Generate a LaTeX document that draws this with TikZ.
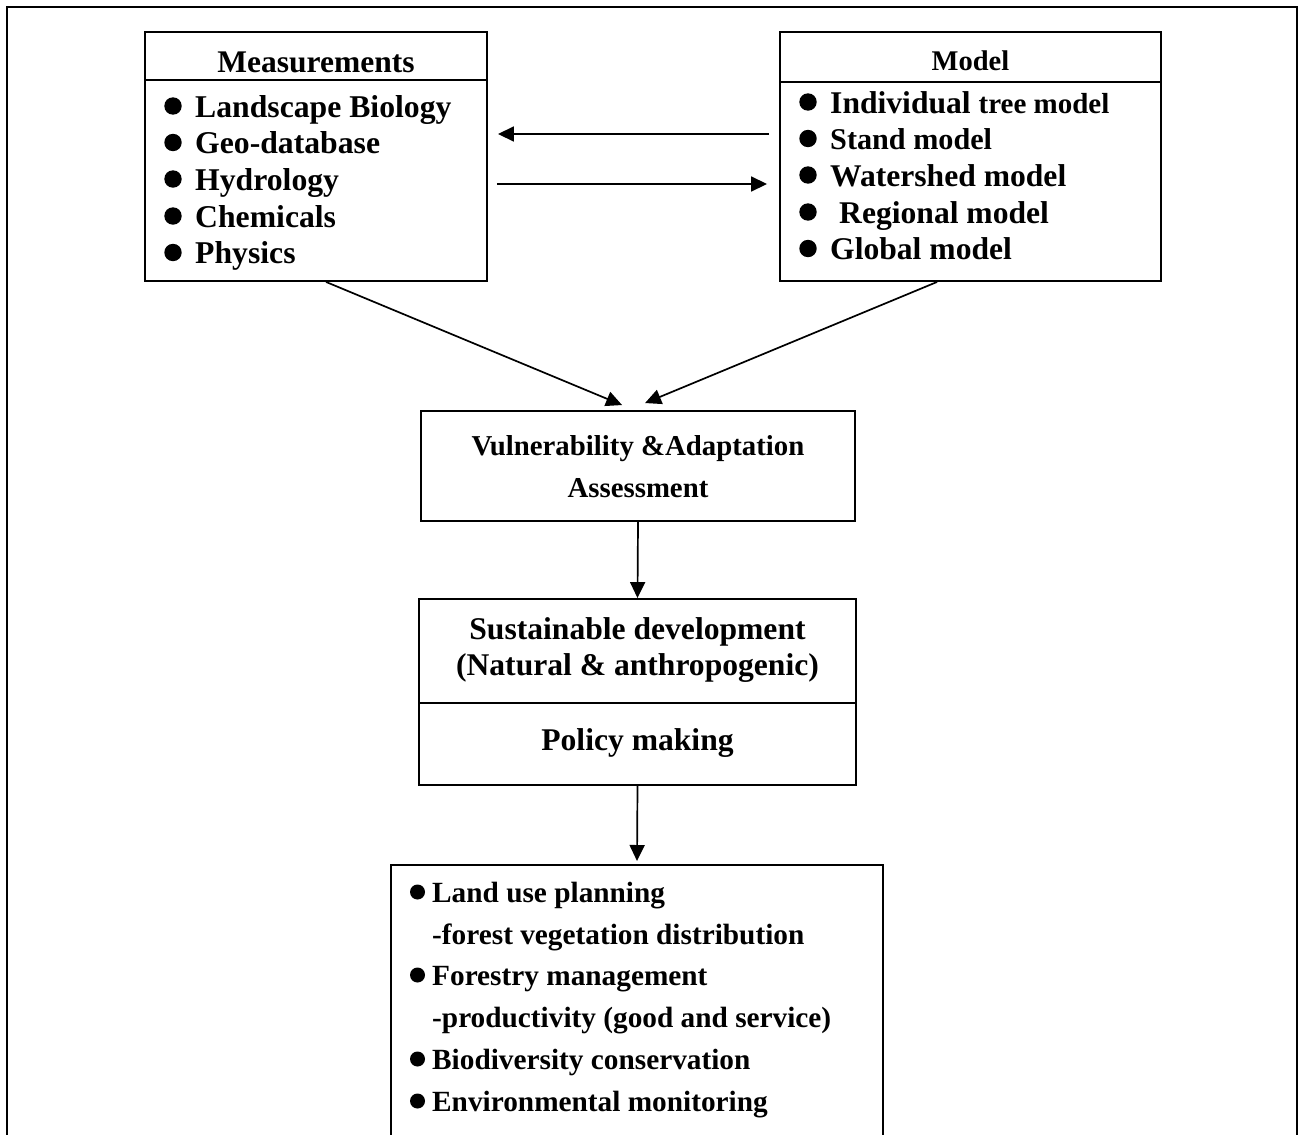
\documentclass[tikz,border=0pt]{standalone}
\usepackage{fontspec}
\setmainfont{Liberation Serif}
\usetikzlibrary{arrows.meta,calc}
\begin{document}
\begin{tikzpicture}[x=1pt,y=-1pt,
  box/.style={draw, line width=1.9pt, inner sep=0pt, rectangle},
  rule/.style={line width=1.9pt},
  fs/.style={inner sep=0pt, font=\bfseries\fontsize{#1}{#1}\selectfont},
  item/.style={fs=#1, anchor=base west},
  arr/.style={line width=1.7pt, -{Triangle[length=16pt,width=15pt]}},
  dot/.style={fill=black},
]
\useasboundingbox (0,0) rectangle (1301,1135);
\clip (0,0) rectangle (1301,1135);

% outer frame (runs past the lower edge)
\draw[line width=2.8pt] (7,7) rectangle (1297,1170);

% ---- boxes ----
\node[box, minimum width=342pt, minimum height=249pt] (meas)  at (316,156.5) {};
\node[box, minimum width=381pt, minimum height=249pt] (model) at (970.5,156.5) {};
\node[box, minimum width=434pt, minimum height=110pt] (vuln)  at (638,466) {};
\node[box, minimum width=437pt, minimum height=186pt] (sust)  at (637.5,692) {};
\node[box, minimum width=492pt, minimum height=330pt, anchor=north] (bottom) at (637,864) {};

% header dividers
\draw[rule] (meas.west |- 0,80) -- (meas.east |- 0,80);
\draw[rule] (model.west |- 0,82) -- (model.east |- 0,82);
\draw[rule] ([xshift=2pt]sust.west |- 0,703) -- ([xshift=-2pt]sust.east |- 0,703);

% ---- Measurements ----
\node[fs=31.5, anchor=base] (measHead) at (316,72) {Measurements};
\foreach \t/\y [count=\i] in {Landscape Biology/117, Geo-database/153.5, Hydrology/190, Chemicals/227, Physics/263.5}{
  \fill[dot] (173,\y-11) circle[radius=8.7pt];
  \node[item=31.7] (meas\i) at (195,\y) {\t};
}

% ---- Model ----
\node[fs=28.5, anchor=base] (modelHead) at (970.5,70) {Model};
\foreach \y in {113,149.5,186,223,259.5}{
  \fill[dot] (808,\y-11) circle[radius=8.7pt];
}
\node[item=31.6] (mod1) at (830,113) {Individual \fontsize{29}{29}\selectfont tree model};
\node[item=30.2] (mod2) at (830,149.5) {Stand model};
\node[item=31.6] (mod3) at (830,186) {Watershed model};
\node[item=31.6] (mod4) at (839,223) {Regional model};
\node[item=31.6] (mod5) at (830,259.5) {Global model};

% ---- Vulnerability ----
\node[fs=28.8, anchor=base] (vul1) at (638,455) {Vulnerability \&Adaptation};
\node[fs=28.8, anchor=base] (vul2) at (638,497) {Assessment};

% ---- Sustainable development ----
\node[fs=31.6, anchor=base] (sus1) at (637.5,639) {Sustainable development};
\node[fs=31.6, anchor=base] (sus2) at (637.5,675) {(Natural \& anthropogenic)};
\node[fs=31.6, anchor=base] (pol)  at (637.5,750) {Policy making};

% ---- actions ----
\foreach \y in {902,985,1069,1111}{
  \fill[dot] (417.5,\y-10) circle[radius=7.5pt];
}
\node[item=29.3] (act1) at (432,902)  {Land use planning};
\node[item=29.3] (act2) at (432,944)  {-forest vegetation distribution};
\node[item=29.3] (act3) at (432,985)  {Forestry management};
\node[item=29.3] (act4) at (432,1027) {-productivity (good and service)};
\node[item=29.3] (act5) at (432,1069) {Biodiversity conservation};
\node[item=29.3] (act6) at (432,1111) {Environmental monitoring};

% ---- connectors ----
\draw[arr, shorten <=10pt, shorten >=10pt] (model.west |- 0,134) -- (meas.east |- 0,134);
\draw[arr, shorten <=9pt, shorten >=12pt] (meas.east |- 0,184) -- (model.west |- 0,184);
\draw[arr] ([xshift=182pt]meas.south west) -- ([xshift=202pt,yshift=5pt]vuln.north west);
\draw[arr] ([xshift=158pt]model.south west) -- ([xshift=225pt,yshift=7pt]vuln.north west);
\draw[arr] (vuln.south) -- (sust.north);
\draw[arr, shorten >=3pt] (sust.south) -- (bottom.north);
\end{tikzpicture}
\end{document}
